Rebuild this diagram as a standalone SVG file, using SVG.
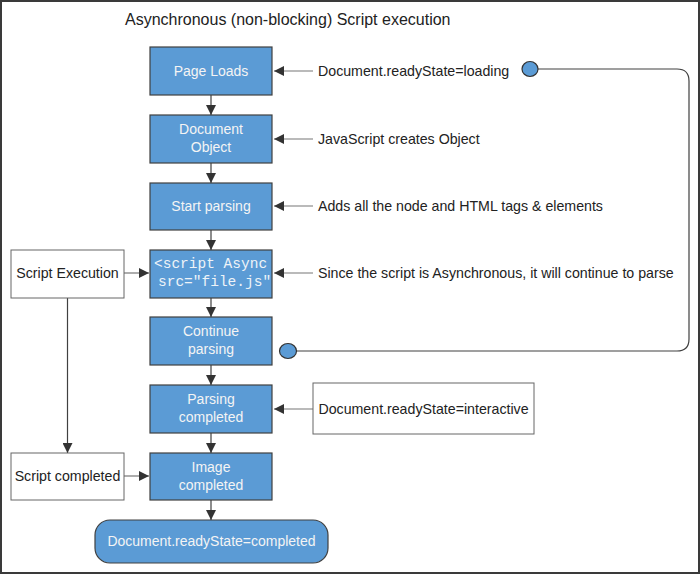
<svg xmlns="http://www.w3.org/2000/svg" width="700" height="574" viewBox="0 0 700 574">
<defs>
<style>
.frame{fill:#fff;stroke:#3a3a3a;stroke-width:2}
.blue{fill:#5b9bd5;stroke:#404040;stroke-width:1.2}
.white{fill:#fff;stroke:#666;stroke-width:1}
.bt{font-family:"Liberation Sans",Arial,sans-serif;font-size:14px;fill:#f4f4f4;text-anchor:middle}
.mono{font-family:"Liberation Mono","Courier New",monospace;font-size:14.5px;fill:#eef3f8}
.lt{font-family:"Liberation Sans",Arial,sans-serif;font-size:14.2px;fill:#222}
.title{font-family:"Liberation Sans",Arial,sans-serif;font-size:16px;fill:#222}
.dark{stroke:#404040;stroke-width:1.2;fill:none}
.gray{stroke:#777;stroke-width:1.2;fill:none}
.dot{fill:#5b9bd5;stroke:#333;stroke-width:1.2}
</style>
<marker id="ah" viewBox="0 0 10 10" refX="10" refY="5" markerWidth="10" markerHeight="10" markerUnits="userSpaceOnUse" orient="auto">
<path d="M0,0 L10,5 L0,10 z" fill="#333"/>
</marker>
</defs>
<rect class="frame" x="1" y="1" width="698" height="572"/>
<text class="title" x="125" y="25">Asynchronous (non-blocking) Script execution</text>

<g id="connectors">
<line class="dark" x1="211" y1="95" x2="211" y2="115" marker-end="url(#ah)"/>
<line class="dark" x1="211" y1="163" x2="211" y2="183" marker-end="url(#ah)"/>
<line class="dark" x1="211" y1="230" x2="211" y2="250" marker-end="url(#ah)"/>
<line class="dark" x1="211" y1="298" x2="211" y2="317" marker-end="url(#ah)"/>
<line class="dark" x1="211" y1="365" x2="211" y2="385" marker-end="url(#ah)"/>
<line class="dark" x1="211" y1="433" x2="211" y2="453" marker-end="url(#ah)"/>
<line class="dark" x1="211" y1="500" x2="211" y2="520" marker-end="url(#ah)"/>
<line class="gray" x1="313" y1="71" x2="274" y2="71" marker-end="url(#ah)"/>
<line class="gray" x1="313" y1="139" x2="274" y2="139" marker-end="url(#ah)"/>
<line class="gray" x1="313" y1="206" x2="274" y2="206" marker-end="url(#ah)"/>
<line class="gray" x1="313" y1="273" x2="274" y2="273" marker-end="url(#ah)"/>
<line class="gray" x1="313" y1="409" x2="274" y2="409" marker-end="url(#ah)"/>
<line class="gray" x1="124" y1="273" x2="149" y2="273" marker-end="url(#ah)"/>
<line class="gray" x1="124" y1="476" x2="149" y2="476" marker-end="url(#ah)"/>
<line class="dark" x1="67.5" y1="298" x2="67.5" y2="453" marker-end="url(#ah)"/>
<path class="dark" d="M538,69 H677 Q689,69 689,81 V339 Q689,351 677,351 H296"/>
<ellipse class="dot" cx="530" cy="69" rx="8" ry="7.5"/>
<ellipse class="dot" cx="288" cy="351" rx="8.5" ry="7.5"/>
</g>

<g id="page-loads">
<rect class="blue" x="150" y="47" width="122" height="48"/>
<text class="bt" x="211" y="76">Page Loads</text>
</g>
<g id="document-object">
<rect class="blue" x="150" y="115" width="122" height="48"/>
<text class="bt" x="211" y="134">Document</text>
<text class="bt" x="211" y="152">Object</text>
</g>
<g id="start-parsing">
<rect class="blue" x="150" y="183" width="122" height="47"/>
<text class="bt" x="211" y="211">Start parsing</text>
</g>
<g id="script-async">
<rect class="blue" x="150" y="250" width="122" height="48"/>
<text class="mono" x="154" y="268">&lt;script Async</text>
<text class="mono" x="158" y="286">src="file.js"</text>
</g>
<g id="continue-parsing">
<rect class="blue" x="150" y="317" width="122" height="48"/>
<text class="bt" x="211" y="336">Continue</text>
<text class="bt" x="211" y="354">parsing</text>
</g>
<g id="parsing-completed">
<rect class="blue" x="150" y="385" width="122" height="48"/>
<text class="bt" x="211" y="404">Parsing</text>
<text class="bt" x="211" y="422">completed</text>
</g>
<g id="image-completed">
<rect class="blue" x="150" y="453" width="122" height="47"/>
<text class="bt" x="211" y="472">Image</text>
<text class="bt" x="211" y="490">completed</text>
</g>
<g id="ready-completed">
<rect class="blue" x="95" y="520" width="233" height="43" rx="15"/>
<text class="bt" x="211.5" y="546">Document.readyState=completed</text>
</g>

<g id="script-execution">
<rect class="white" x="11" y="250" width="113" height="48"/>
<text class="lt" x="67.5" y="278" text-anchor="middle">Script Execution</text>
</g>
<g id="script-completed">
<rect class="white" x="11" y="453" width="113" height="47"/>
<text class="lt" x="67.5" y="481" text-anchor="middle">Script completed</text>
</g>
<g id="ready-interactive">
<rect class="white" x="313" y="383" width="221" height="51"/>
<text class="lt" x="423.5" y="414" text-anchor="middle">Document.readyState=interactive</text>
</g>

<g id="label-loading"><text class="lt" x="318" y="76">Document.readyState=loading</text></g>
<g id="label-js"><text class="lt" x="318" y="144">JavaScript creates Object</text></g>
<g id="label-adds"><text class="lt" x="318" y="211">Adds all the node and HTML tags &amp; elements</text></g>
<g id="label-since"><text class="lt" x="318" y="278">Since the script is Asynchronous, it will continue to parse</text></g>
</svg>
